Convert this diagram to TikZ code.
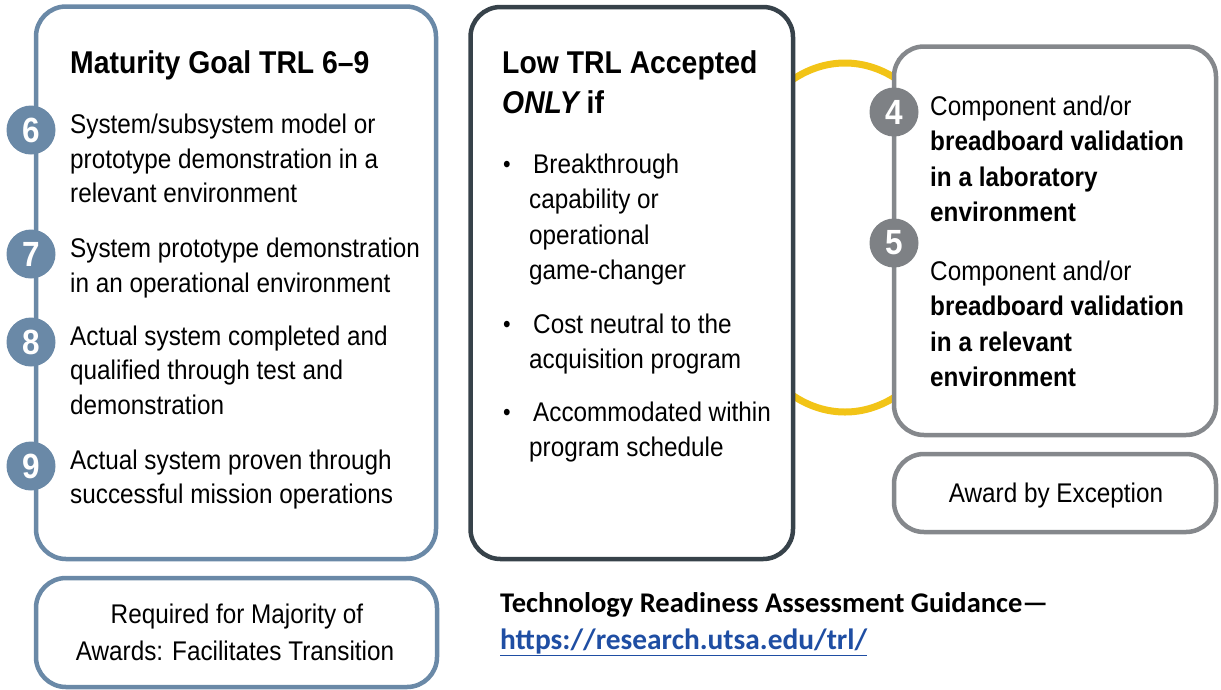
\documentclass[tikz,border=0pt]{standalone}
\usepackage{fontspec}
\setmainfont{Liberation Sans}[FakeStretch=0.9]
\newfontfamily\calib{Carlito}
\definecolor{blueg}{HTML}{6A89A7}
\definecolor{darkg}{HTML}{37424A}
\definecolor{midg}{HTML}{85888C}
\definecolor{circg}{HTML}{7E8185}
\definecolor{yel}{HTML}{F2C417}
\definecolor{urlblue}{HTML}{1F4EA3}
\newcommand\bodyfnt{\fontsize{27}{34}\selectfont}
\newcommand\titlefnt{\fontsize{31.5}{38}\selectfont\bfseries}
\newcommand\numfnt{\fontsize{35}{40}\selectfont\bfseries}
\newcommand\notefnt{\calib\fontsize{28.5}{34}\selectfont\bfseries}
\newcommand\urlfnt{\calib\fontsize{29.4}{34}\selectfont\bfseries}
\tikzset{
  box/.style={rectangle, rounded corners=30pt, line width=4.5pt, fill=white, inner sep=0pt},
  numc/.style={circle, minimum size=49pt, inner sep=0pt, text=white, font=\numfnt},
  txt/.style={anchor=base west, inner sep=0pt, font=\bodyfnt},
  btxt/.style={anchor=base west, inner sep=0pt, font=\bodyfnt\bfseries},
  ttl/.style={anchor=base west, inner sep=0pt, font=\titlefnt},
  ctxt/.style={anchor=base, inner sep=0pt, font=\bodyfnt},
  bul/.style={anchor=base west, inner sep=0pt, font=\fontsize{24}{28}\selectfont},
  yelline/.style={draw=yel, line width=7pt}
}
\begin{document}
\begin{tikzpicture}[x=1pt,y=-1pt]
\useasboundingbox (0,0) rectangle (1221,689);
% yellow link behind the two right boxes
\draw[yelline] (845,237.5) ellipse [x radius=123, y radius=174.5];
% boxes
\node[box, draw=blueg, minimum width=400pt, minimum height=552.5pt] (goal) at (236,282.75) {};
\node[box, draw=blueg, minimum width=401pt, minimum height=109pt] (req) at (236.5,632.5) {};
\node[box, draw=darkg, minimum width=322.5pt, minimum height=552pt] (low) at (631.75,283) {};
\node[box, draw=midg, minimum width=322pt, minimum height=388.5pt] (comp) at (1055,240.75) {};
\node[box, draw=midg, minimum width=322pt, minimum height=78pt] (award) at (1055,493) {};
% circles
\node[numc, fill=blueg] (c6) at (31,130) {6};
\node[numc, fill=blueg] (c7) at (31,254) {7};
\node[numc, fill=blueg] (c8) at (31,342) {8};
\node[numc, fill=blueg] (c9) at (31,466) {9};
\node[numc, fill=circg] (c4) at (894,112) {4};
\node[numc, fill=circg] (c5) at (894,243) {5};
% left box text
\node[ttl] (t1) at (70,73) {Maturity Goal TRL 6--9};
\node[txt] (l6a) at (70,133.5) {System/subsystem model or};
\node[txt] (l6b) at (70,168) {prototype demonstration in a};
\node[txt] (l6c) at (70,202.5) {relevant environment};
\node[txt] (l7a) at (70,257) {System prototype demonstration};
\node[txt] (l7b) at (70,292) {in an operational environment};
\node[txt] (l8a) at (70,345) {Actual system completed and};
\node[txt] (l8b) at (70,379.5) {qualified through test and};
\node[txt] (l8c) at (70,414) {demonstration};
\node[txt] (l9a) at (70,469) {Actual system proven through};
\node[txt] (l9b) at (70,503.5) {successful mission operations};
\node[ctxt] (r1) at (237,623) {Required for Majority of};
\node[ctxt] (r2) at (235,660) {Awards: Facilitates Transition};
% middle box text
\node[ttl] (t2) at (502,73) {Low TRL Accepted};
\node[ttl] (t3) at (502,113) {\itshape ONLY\upshape\ if};
\node[bul] (b1) at (503,172) {•};
\node[txt] (m1a) at (533,173) {Breakthrough};
\node[txt] (m1b) at (529,208.5) {capability or};
\node[txt] (m1c) at (529,244) {operational};
\node[txt] (m1d) at (529,279.5) {game-changer};
\node[bul] (b2) at (503,332) {•};
\node[txt] (m2a) at (533,333) {Cost neutral to the};
\node[txt] (m2b) at (529,368) {acquisition program};
\node[bul] (b3) at (503,420) {•};
\node[txt] (m3a) at (533,421) {Accommodated within};
\node[txt] (m3b) at (529,456) {program schedule};
% right box text
\node[txt] (k4a) at (930,115) {Component and/or};
\node[btxt] (k4b) at (930,150.5) {breadboard validation};
\node[btxt] (k4c) at (930,186) {in a laboratory};
\node[btxt] (k4d) at (930,221.5) {environment};
\node[txt] (k5a) at (930,280) {Component and/or};
\node[btxt] (k5b) at (930,315.5) {breadboard validation};
\node[btxt] (k5c) at (930,351) {in a relevant};
\node[btxt] (k5d) at (930,386.5) {environment};
\node[ctxt] (aw) at (1056,502) {Award by Exception};
% bottom note
\node[anchor=base west, inner sep=0pt, font=\notefnt] (n1) at (500,612) {Technology Readiness Assessment Guidance—};
\node[anchor=base west, inner sep=0pt, font=\urlfnt, text=urlblue] (n2) at (500,649) {\underline{https://research.utsa.edu/trl/}};
\end{tikzpicture}
\end{document}
